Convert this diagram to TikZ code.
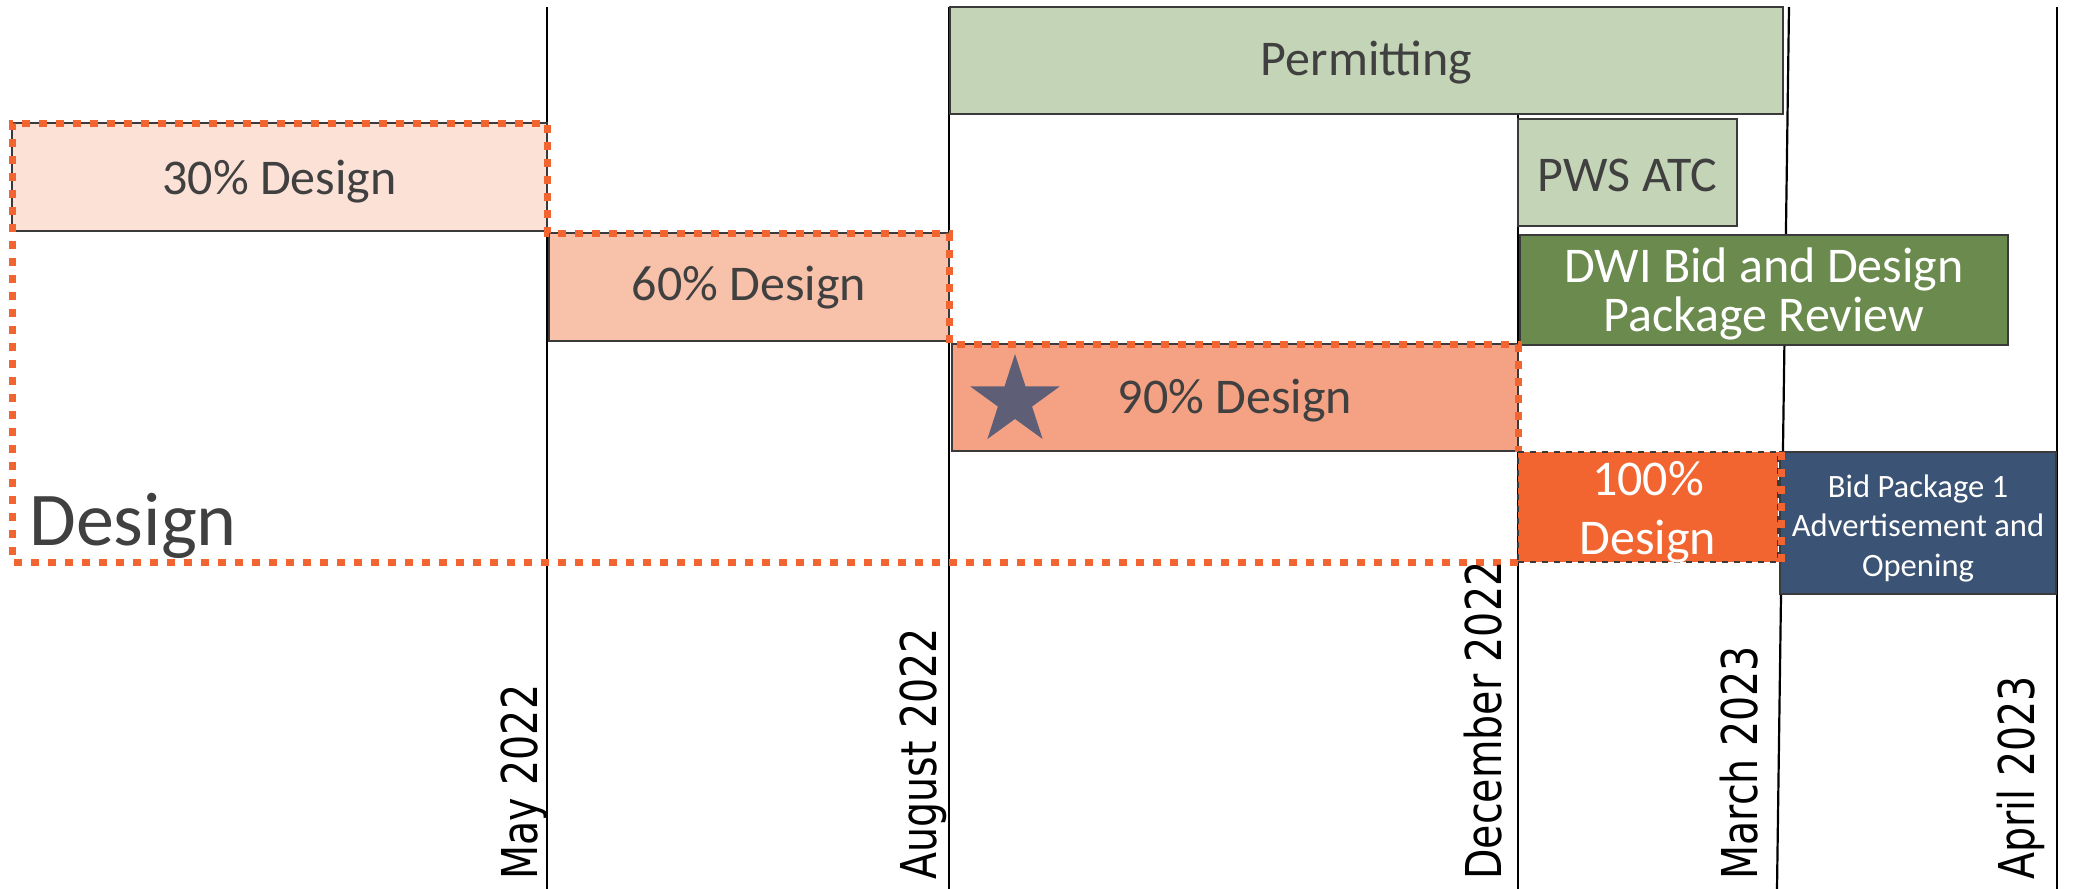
\documentclass[tikz,border=0pt]{standalone}
\usepackage{fontspec}
\setmainfont{Carlito}
\newfontfamily\datefont{DejaVu Sans}
\usetikzlibrary{shapes.geometric}
\definecolor{permit}{HTML}{C4D4B6}
\definecolor{dwigreen}{HTML}{6A8A4E}
\definecolor{pthirty}{HTML}{FBE1D6}
\definecolor{psixty}{HTML}{F8C1AA}
\definecolor{pninety}{HTML}{F5A284}
\definecolor{dotorange}{HTML}{F26531}
\definecolor{bidnavy}{HTML}{3B5374}
\definecolor{starcol}{HTML}{5E5F77}
\definecolor{txtgray}{HTML}{404040}
\definecolor{boxline}{HTML}{3A3A3A}
\begin{document}
\begin{tikzpicture}[x=0.5pt,y=-0.5pt,
  box/.style={draw=boxline, line width=0.8pt, inner sep=0pt},
  boxtext/.style={anchor=base, inner sep=0pt, text=txtgray, font=\fontsize{25}{29.5}\selectfont},
  whitetext/.style={boxtext, text=white},
  smalltext/.style={anchor=base, inner sep=0pt, text=white, font=\fontsize{16.3}{20}\selectfont},
  datelbl/.style={rotate=90, anchor=base west, inner sep=0pt, text=black,
    font=\datefont\fontsize{24.7}{28}\selectfont},
  vline/.style={draw=black, line width=1.1pt},
  designoutline/.style={draw=dotorange, line width=3.5pt, dash pattern=on 4pt off 4.5pt}]
\useasboundingbox (0,0) rectangle (2073,889);

% vertical time lines
\draw[vline] (547,7) -- (547,889);
\draw[vline] (949,7) -- (949,889);
\draw[vline] (1518,114) -- (1518,889);
\draw[vline] (1789,7) -- (1777,889);
\draw[vline] (2057,7) -- (2057,889);

% boxes
\node[box, fill=permit, minimum width=416.5pt, minimum height=53.5pt] (perm) at (1366.5,60.5) {};
\node[box, fill=pthirty, minimum width=267.5pt, minimum height=54pt] (p30) at (279.5,177) {};
\node[box, fill=psixty, minimum width=200pt, minimum height=54pt] (p60) at (749,287) {};
\node[box, fill=pninety, minimum width=283pt, minimum height=53.5pt] (p90) at (1235,397.5) {};
\node[box, fill=bidnavy, minimum width=138pt, minimum height=71pt] (bid) at (1918,523) {};
\node[box, fill=permit, minimum width=109.5pt, minimum height=53.5pt] (pws) at (1627.5,172.5) {};
\node[box, fill=dwigreen, minimum width=244pt, minimum height=55pt] (dwi) at (1764,290) {};

% star
\node[star, star points=5, star point ratio=2.618, fill=starcol, draw=none, inner sep=0pt,
  minimum size=47pt] (star) at (1015,401) {};

% design outline
\draw[designoutline] (1518,562) -- (12,562) -- (12,123) -- (547,123) -- (547,233) -- (949,233)
  -- (949,344) -- (1518,344) -- (1518,452);

\node[box, fill=dotorange, dashed, minimum width=130pt, minimum height=55pt] (p100) at (1648,507) {};
\draw[designoutline] (1781,452) -- (1781,562);

% box texts
\node[boxtext] (tperm) at (1366.5,75) {Permitting};
\node[boxtext] (t30) at (279.5,194) {30\% Design};
\node[boxtext] (t60) at (749,300) {60\% Design};
\node[boxtext] (t90) at (1235,413) {90\% Design};
\node[boxtext] (tpws) at (1627.5,191) {PWS ATC};
\node[whitetext] (tdwia) at (1764,282) {DWI Bid and Design};
\node[whitetext] (tdwib) at (1764,331) {Package Review};
\node[whitetext] (t100a) at (1648,495) {100\%};
\node[whitetext] (t100b) at (1648,554) {Design};
\node[smalltext] (tbida) at (1918,497) {Bid Package 1};
\node[smalltext] (tbidb) at (1918,536.5) {Advertisement and};
\node[smalltext] (tbidc) at (1918,576) {Opening};

\node[anchor=base west, inner sep=0pt, text=txtgray, font=\fontsize{38}{44}\selectfont] (design) at (29,545) {Design};

% dates
\node[datelbl] (dmay) at (537,880) {\scalebox{0.8}[1]{May 2022}};
\node[datelbl] (daug) at (936,880) {\scalebox{0.8}[1]{August 2022}};
\node[datelbl] (ddec) at (1501,880) {\scalebox{0.8}[1]{December 2022}};
\node[datelbl] (dmar) at (1757,880) {\scalebox{0.8}[1]{March 2023}};
\node[datelbl] (dapr) at (2034,880) {\scalebox{0.8}[1]{April 2023}};
\end{tikzpicture}
\end{document}
